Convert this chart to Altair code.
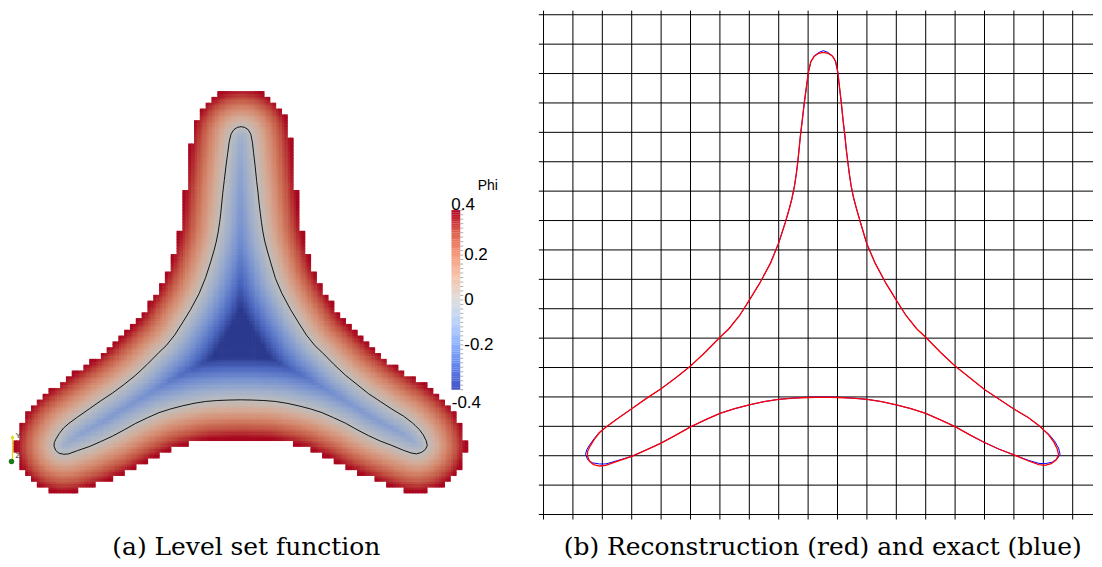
import altair as alt
import numpy as np
import pandas as pd

# ---------------- data (grid units: column, row counted from the top) ----------------
recon_pts = [
    (9.52, 1.28), (9.36, 1.31), (9.21, 1.41), (9.09, 1.60), (9.01, 1.95), (8.95, 2.40),
    (8.87, 3.00), (8.80, 3.60), (8.74, 4.10), (8.69, 4.60), (8.65, 5.00), (8.60, 5.40),
    (8.54, 5.80), (8.45, 6.25), (8.36, 6.60), (8.22, 7.08), (8.00, 7.76), (7.72, 8.45),
    (7.35, 9.14), (7.00, 9.71), (6.67, 10.23), (6.30, 10.69), (6.00, 10.97), (5.49, 11.49),
    (5.00, 11.95), (4.50, 12.35), (4.00, 12.72), (3.50, 13.05), (3.00, 13.40), (2.50, 13.75),
    (2.13, 14.02), (1.90, 14.22), (1.72, 14.45), (1.58, 14.68), (1.50, 14.85), (1.49, 15.00),
    (1.56, 15.18), (1.70, 15.30), (1.91, 15.35), (2.12, 15.33), (2.50, 15.19), (3.00, 15.02),
    (3.50, 14.80), (4.00, 14.57), (4.50, 14.30), (5.00, 14.02), (5.50, 13.78), (6.00, 13.56),
    (6.50, 13.40), (7.00, 13.27), (7.50, 13.16), (8.00, 13.08), (8.50, 13.04), (9.00, 13.02),
    (9.50, 13.01), (10.00, 13.02), (10.50, 13.04), (11.00, 13.08), (11.50, 13.16), (12.00, 13.27),
    (12.50, 13.40), (13.00, 13.56), (13.50, 13.78), (14.00, 14.01), (14.50, 14.29), (15.00, 14.55),
    (15.50, 14.78), (16.00, 14.97), (16.50, 15.18), (16.85, 15.30), (17.06, 15.33), (17.27, 15.27),
    (17.44, 15.14), (17.52, 14.97), (17.47, 14.76), (17.35, 14.52), (17.18, 14.29), (17.00, 14.11),
    (16.88, 14.00), (16.50, 13.71), (16.00, 13.41), (15.50, 13.08), (15.00, 12.75), (14.50, 12.35),
    (14.00, 11.95), (13.50, 11.48), (13.00, 10.97), (12.70, 10.69), (12.33, 10.23), (12.00, 9.71),
    (11.65, 9.14), (11.28, 8.45), (11.00, 7.80), (10.79, 7.10), (10.64, 6.58), (10.54, 6.20),
    (10.46, 5.80), (10.40, 5.40), (10.35, 5.00), (10.30, 4.60), (10.25, 4.10), (10.19, 3.60),
    (10.13, 3.00), (10.06, 2.40), (10.01, 1.95), (9.94, 1.60), (9.83, 1.41), (9.68, 1.31),
]

exact_pts = [
    (9.52, 1.22), (9.37, 1.28), (9.22, 1.39), (9.10, 1.58), (9.01, 1.95), (8.95, 2.40),
    (8.87, 3.00), (8.80, 3.60), (8.74, 4.10), (8.69, 4.60), (8.65, 5.00), (8.60, 5.40),
    (8.54, 5.80), (8.45, 6.25), (8.36, 6.60), (8.22, 7.08), (8.00, 7.76), (7.72, 8.45),
    (7.35, 9.14), (7.00, 9.71), (6.67, 10.23), (6.30, 10.69), (6.00, 10.97), (5.49, 11.49),
    (5.00, 11.95), (4.50, 12.35), (4.00, 12.72), (3.50, 13.05), (3.00, 13.40), (2.50, 13.75),
    (2.13, 14.02), (1.90, 14.20), (1.72, 14.42), (1.57, 14.63), (1.47, 14.80), (1.43, 14.95),
    (1.50, 15.13), (1.66, 15.24), (1.90, 15.28), (2.12, 15.28), (2.50, 15.17), (3.00, 15.02),
    (3.50, 14.80), (4.00, 14.57), (4.50, 14.30), (5.00, 14.02), (5.50, 13.78), (6.00, 13.56),
    (6.50, 13.40), (7.00, 13.27), (7.50, 13.16), (8.00, 13.08), (8.50, 13.04), (9.00, 13.01),
    (9.50, 13.00), (10.00, 13.01), (10.50, 13.04), (11.00, 13.08), (11.50, 13.16), (12.00, 13.27),
    (12.50, 13.40), (13.00, 13.56), (13.50, 13.78), (14.00, 14.01), (14.50, 14.29), (15.00, 14.55),
    (15.50, 14.78), (16.00, 14.97), (16.50, 15.16), (16.85, 15.26), (17.06, 15.27), (17.30, 15.22),
    (17.48, 15.10), (17.57, 14.95), (17.52, 14.74), (17.38, 14.50), (17.20, 14.28), (17.00, 14.11),
    (16.88, 14.00), (16.50, 13.71), (16.00, 13.41), (15.50, 13.08), (15.00, 12.75), (14.50, 12.35),
    (14.00, 11.95), (13.50, 11.48), (13.00, 10.97), (12.70, 10.69), (12.33, 10.23), (12.00, 9.71),
    (11.65, 9.14), (11.28, 8.45), (11.00, 7.80), (10.79, 7.10), (10.64, 6.58), (10.54, 6.20),
    (10.46, 5.80), (10.40, 5.40), (10.35, 5.00), (10.30, 4.60), (10.25, 4.10), (10.19, 3.60),
    (10.13, 3.00), (10.06, 2.40), (10.01, 1.95), (9.93, 1.58), (9.82, 1.39), (9.67, 1.28),
]

grid_cols = list(range(19))     # vertical mesh lines
grid_rows = list(range(18))     # horizontal mesh lines

phi_band = 0.4                  # narrow band half-width (colour range)
band_cells_out = 1.62           # outer band width in grid cells
band_cells_in = 1.85            # depth at which the inside saturates
cbar_labels_mid = [0.2, 0.0, -0.2]
cbar_label_text_mid = ["0.2", "0", "-0.2"]
cbar_labels_end = [0.4, -0.4]
cbar_label_text_end = ["0.4", "-0.4"]
cbar_minor = [round(-0.4 + 0.02 * i, 2) for i in range(41)]

cool_warm = ["#3b4cc0", "#6282ea", "#8db0fe", "#b8d0f9", "#dddddd",
             "#f5c4ad", "#f49a7b", "#de604d", "#b40426"]
cool_warm_lit = ["#2b3a8e", "#4d69c0", "#7590d0", "#9cadcc", "#bebebe",
                 "#d4ab97", "#d4876c", "#c25443", "#a8071f"]
stops = [-0.4, -0.3, -0.2, -0.1, 0.0, 0.1, 0.2, 0.3, 0.4]


# ---------------- signed distance level set from the reconstructed curve ----------------
P = np.array(recon_pts)
A = P
B = np.roll(P, -1, axis=0)


def signed_distance(x, y):
    pts = np.column_stack([x, y])
    AB = B - A
    AP = pts[:, None, :] - A[None, :, :]
    t = np.clip((AP * AB).sum(-1) / (AB * AB).sum(-1), 0, 1)
    proj = A[None] + t[..., None] * AB[None]
    d = np.sqrt(((pts[:, None, :] - proj) ** 2).sum(-1)).min(1)
    yi, yj = A[:, 1][None], B[:, 1][None]
    xi, xj = A[:, 0][None], B[:, 0][None]
    yy = y[:, None]
    cond = (yi > yy) != (yj > yy)
    xint = xi + (yy - yi) * (xj - xi) / np.where(yj - yi == 0, 1e-12, yj - yi)
    inside = (cond & (x[:, None] < xint)).sum(1) % 2 == 1
    return np.where(inside, -d, d)


def level_set(x, y):
    sd = signed_distance(x, y)
    return np.where(sd < 0, sd / band_cells_in, sd / band_cells_out) * phi_band


coarse = 0.25
cc = np.arange(-0.75, 20.0, coarse)
rr = np.arange(-1.0, 17.5, coarse)
CX, RY = np.meshgrid(cc, rr)
cx, ry = CX.ravel(), RY.ravel()
phi_c = level_set(cx + coarse / 2, ry + coarse / 2)
keep = phi_c <= phi_band
kx, ky = cx[keep], ry[keep]
fine = coarse / 2
fx = np.concatenate([kx, kx + fine, kx, kx + fine])
fy = np.concatenate([ky, ky, ky + fine, ky + fine])
phi_f = np.clip(level_set(fx + fine / 2, fy + fine / 2), -phi_band, phi_band)
ov = 0.03
heat_df = pd.DataFrame({
    "c": np.round(fx, 3), "c2": np.round(fx + fine + ov, 3),
    "r": np.round(fy, 3), "r2": np.round(fy + fine + ov, 3),
    "phi": np.round(phi_f, 3),
})

recon_df = pd.DataFrame({"c": [p[0] for p in recon_pts] + [recon_pts[0][0]],
                         "r": [p[1] for p in recon_pts] + [recon_pts[0][1]]})
recon_df["i"] = range(len(recon_df))
exact_df = pd.DataFrame({"c": [p[0] for p in exact_pts] + [exact_pts[0][0]],
                         "r": [p[1] for p in exact_pts] + [exact_pts[0][1]]})
exact_df["i"] = range(len(exact_df))

# ---------------- layout ----------------
H = 551
W1, W2 = 500, 564
px_left = 23.35
xl = alt.Scale(domain=[-0.401, -0.401 + W1 / px_left], nice=False, zero=False)
yl = alt.Scale(domain=[-3.784, -3.784 + H / px_left], nice=False, zero=False, reverse=True)
px_right = 29.48
xr_dom = [-0.441, -0.441 + W2 / px_right]
xr = alt.Scale(domain=xr_dom, nice=False, zero=False)
yr = alt.Scale(domain=[-0.2035, -0.2035 + H / px_right], nice=False, zero=False, reverse=True)

# ---- left panel: level set function ----
heat = alt.Chart(heat_df).mark_rect(strokeWidth=0).encode(
    x=alt.X("c:Q", scale=xl, axis=None), x2="c2:Q",
    y=alt.Y("r:Q", scale=yl, axis=None), y2="r2:Q",
    color=alt.Color("phi:Q", scale=alt.Scale(domain=stops, range=cool_warm_lit,
                                             interpolate="rgb"), legend=None),
)
contour = alt.Chart(recon_df).mark_line(color="black", strokeWidth=0.9).encode(
    x=alt.X("c:Q", scale=xl, axis=None), y=alt.Y("r:Q", scale=yl, axis=None), order="i:Q")

cb_vals = [round(-0.4 + 0.01 * i, 2) for i in range(80)]
cb_df = pd.DataFrame({"v": cb_vals, "v2": [round(v + 0.0105, 4) for v in cb_vals],
                      "m": [round(v + 0.005, 4) for v in cb_vals]})
cb_scale = alt.Scale(domain=[-0.4, 0.4], range=[382, 202], nice=False, zero=False)
cb_rect = alt.Chart(cb_df).mark_rect().encode(
    x=alt.value(442.7), x2=alt.value(451.5),
    y=alt.Y("v:Q", scale=cb_scale, axis=None), y2="v2:Q",
    color=alt.Color("m:Q", scale=alt.Scale(domain=stops, range=cool_warm, interpolate="rgb"),
                    legend=None),
)
cb_ticks = alt.Chart(pd.DataFrame({"v": cbar_minor})).mark_rule(color="#9a9a9a", strokeWidth=0.8).encode(
    x=alt.value(451.5), x2=alt.value(454.5), y=alt.Y("v:Q", scale=cb_scale, axis=None))
cb_mid = alt.Chart(pd.DataFrame({"v": cbar_labels_mid, "t": cbar_label_text_mid})).mark_text(
    font="Liberation Sans", fontSize=17, align="left", baseline="middle", color="black").encode(
    x=alt.value(455.5), y=alt.Y("v:Q", scale=cb_scale, axis=None), text="t:N")
cb_top = alt.Chart(pd.DataFrame({"v": cbar_labels_end[:1], "t": cbar_label_text_end[:1]})).mark_text(
    font="Liberation Sans", fontSize=17, align="left", baseline="alphabetic", dy=0, color="black").encode(
    x=alt.value(442.5), y=alt.Y("v:Q", scale=cb_scale, axis=None), text="t:N")
cb_bot = alt.Chart(pd.DataFrame({"v": cbar_labels_end[1:], "t": cbar_label_text_end[1:]})).mark_text(
    font="Liberation Sans", fontSize=17, align="left", baseline="top", dy=5, color="black").encode(
    x=alt.value(443), y=alt.Y("v:Q", scale=cb_scale, axis=None), text="t:N")
cb_title = alt.Chart(pd.DataFrame({"t": ["Phi"]})).mark_text(
    font="Liberation Sans", fontSize=14, align="left", baseline="middle", color="black").encode(
    x=alt.value(469), y=alt.value(178), text="t:N")
colorbar = alt.layer(cb_rect, cb_ticks, cb_mid, cb_top, cb_bot, cb_title)

# small orientation triad (ParaView)
triad_line = alt.Chart(pd.DataFrame({"k": [0]})).mark_rule(color="#e8d800", strokeWidth=1.2).encode(
    x=alt.value(2.5), y=alt.value(429), y2=alt.value(454))
triad_head = alt.Chart(pd.DataFrame({"k": [0]})).mark_point(
    shape="triangle-up", filled=True, color="#e8d800", size=18, opacity=1).encode(
    x=alt.value(2.5), y=alt.value(429))
triad_dot = alt.Chart(pd.DataFrame({"k": [0]})).mark_point(
    shape="circle", filled=True, color="#1a7a1a", size=30, opacity=1).encode(
    x=alt.value(1.5), y=alt.value(454))
triad_txt = alt.Chart(pd.DataFrame({"t": ["Y", "Z"], "yy": [428, 448]})).mark_text(
    font="Liberation Sans", fontSize=8, align="left", baseline="middle", color="#333333").encode(
    x=alt.value(5.5), y=alt.Y("yy:Q", scale=None), text="t:N")
triad = alt.layer(triad_line, triad_head, triad_dot, triad_txt)

left = alt.layer(heat, contour, colorbar, triad).resolve_scale(
    y="independent", color="independent").properties(
    width=W1, height=H,
    title=alt.TitleParams("(a) Level set function", orient="bottom", anchor="middle",
                          frame="group", baseline="alphabetic", offset=-3, dx=-13,
                          font="DejaVu Serif", fontSize=25, fontWeight="normal", color="black"))

# ---- right panel: reconstruction vs exact ----
vlines = alt.Chart(pd.DataFrame({"c": grid_cols, "r0": -0.14, "r1": 17.17})).mark_rule(
    color="black", strokeWidth=1).encode(
    x=alt.X("c:Q", scale=xr, axis=None), y=alt.Y("r0:Q", scale=yr, axis=None), y2="r1:Q")
hlines = alt.Chart(pd.DataFrame({"r": grid_rows, "c0": -0.16, "c1": xr_dom[1]})).mark_rule(
    color="black", strokeWidth=1).encode(
    y=alt.Y("r:Q", scale=yr, axis=None), x=alt.X("c0:Q", scale=xr, axis=None), x2="c1:Q")
exact_line = alt.Chart(exact_df).mark_line(color="#0000ff", strokeWidth=1.0).encode(
    x=alt.X("c:Q", scale=xr, axis=None), y=alt.Y("r:Q", scale=yr, axis=None), order="i:Q")
recon_line = alt.Chart(recon_df).mark_line(color="#ff0000", strokeWidth=1.3).encode(
    x=alt.X("c:Q", scale=xr, axis=None), y=alt.Y("r:Q", scale=yr, axis=None), order="i:Q")

right = alt.layer(vlines, hlines, exact_line, recon_line).properties(
    width=W2, height=H,
    title=alt.TitleParams("(b) Reconstruction (red) and exact (blue)", orient="bottom",
                          anchor="middle", frame="group", baseline="alphabetic", offset=-3,
                          dx=11, font="DejaVu Serif", fontSize=25, fontWeight="normal",
                          color="black"))

chart = alt.hconcat(left, right, spacing=22).configure_view(stroke=None).properties(
    padding=0, background="white")

chart.save("out.html", embed_options={"renderer": "svg", "actions": False})
